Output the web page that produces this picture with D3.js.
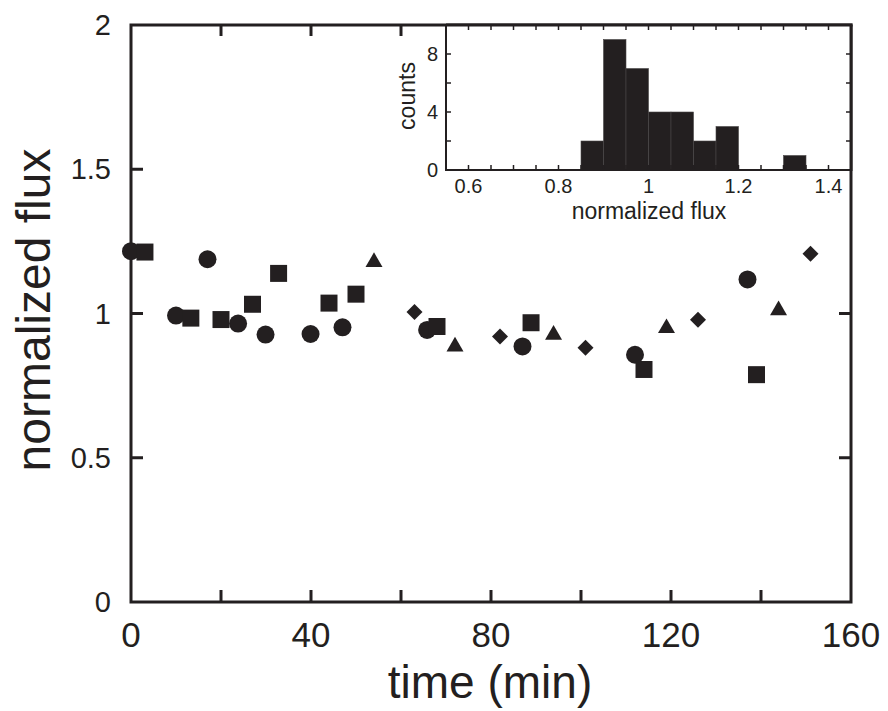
<!DOCTYPE html>
<html>
<head>
<meta charset="utf-8">
<script src="https://cdn.jsdelivr.net/npm/d3@7"></script>
<style>
  body { margin: 0; background: #fff; }
  text { font-family: "Liberation Sans", Arial, sans-serif; fill: #231f20; }
</style>
</head>
<body>
<svg width="888" height="711"></svg>
<script>
// main plot data
const circleTime = [0, 10, 17, 23.8, 29.9, 39.9, 47, 65.8, 87, 112, 137];
const circleFlux = [1.216, 0.993, 1.188, 0.965, 0.927, 0.929, 0.952, 0.943, 0.886, 0.857, 1.118];
const squareTime = [3.1, 13.3, 20, 27, 32.8, 44, 50, 68, 88.9, 114, 139];
const squareFlux = [1.213, 0.984, 0.979, 1.032, 1.139, 1.036, 1.067, 0.955, 0.968, 0.806, 0.788];
const triTime = [54, 72, 93.9, 119, 143.9];
const triFlux = [1.178, 0.885, 0.926, 0.949, 1.011];
const diamondTime = [63, 82, 101, 126, 151];
const diamondFlux = [1.005, 0.920, 0.881, 0.978, 1.207];

const xTicks = [0, 40, 80, 120, 160];
const yTicks = [0, 0.5, 1, 1.5, 2];

// inset histogram
const binStart = [0.85, 0.9, 0.95, 1.0, 1.05, 1.1, 1.15, 1.3];
const binCount = [2, 9, 7, 4, 4, 2, 3, 1];
const binWidth = 0.05;
const insetXTicks = [0.6, 0.8, 1, 1.2, 1.4];
const insetYTicks = [0, 4, 8];

const ink = '#231f20';
const svg = d3.select('svg');

// scales
const x = d3.scaleLinear().domain([0, 160]).range([131, 851]);
const y = d3.scaleLinear().domain([0, 2]).range([602, 25]);

// frame
svg.append('rect')
   .attr('x', 131).attr('y', 25)
   .attr('width', 720).attr('height', 577)
   .attr('fill', 'none').attr('stroke', ink).attr('stroke-width', 3);

// x ticks every 20, bottom (up) and top (down)
const minorX = d3.range(20, 160, 20);
svg.append('g').selectAll('line').data(minorX).join('line')
   .attr('x1', d => x(d)).attr('x2', d => x(d))
   .attr('y1', 602).attr('y2', 590)
   .attr('stroke', ink).attr('stroke-width', 3);
svg.append('g').selectAll('line').data(minorX.filter(d => x(d) < 446)).join('line')
   .attr('x1', d => x(d)).attr('x2', d => x(d))
   .attr('y1', 25).attr('y2', 36)
   .attr('stroke', ink).attr('stroke-width', 3);

// y ticks left and right
const innerY = [0.5, 1, 1.5];
svg.append('g').selectAll('line').data(innerY).join('line')
   .attr('x1', 131).attr('x2', 143)
   .attr('y1', d => y(d)).attr('y2', d => y(d))
   .attr('stroke', ink).attr('stroke-width', 3);
svg.append('g').selectAll('line').data([0.5, 1]).join('line')
   .attr('x1', 851).attr('x2', 839)
   .attr('y1', d => y(d)).attr('y2', d => y(d))
   .attr('stroke', ink).attr('stroke-width', 3);

// tick labels
svg.append('g').selectAll('text').data(xTicks).join('text')
   .attr('x', d => x(d)).attr('y', 647)
   .attr('text-anchor', 'middle')
   .attr('font-size', '35px')
   .text(d => d);

svg.append('g').selectAll('text').data(yTicks).join('text')
   .attr('x', 111).attr('y', d => y(d) + 10)
   .attr('text-anchor', 'end')
   .attr('font-size', '29px')
   .text(d => d);

// axis labels
svg.append('text')
   .attr('x', 490).attr('y', 698)
   .attr('text-anchor', 'middle')
   .attr('font-size', '46px')
   .text('time (min)');

svg.append('text')
   .attr('transform', 'translate(50,310) rotate(-90)')
   .attr('text-anchor', 'middle')
   .attr('font-size', '48px')
   .text('normalized flux');

// markers
const pts = svg.append('g');
function drawSeries(times, fluxes, type, size, rot) {
  pts.selectAll(null).data(times.map((t, i) => ({t: t, f: fluxes[i]}))).join('path')
     .attr('d', d3.symbol().type(type).size(size))
     .attr('transform', d => 'translate(' + x(d.t) + ',' + y(d.f) + ') rotate(' + rot + ')')
     .attr('fill', ink);
}
drawSeries(circleTime, circleFlux, d3.symbolCircle, 254, 0);
drawSeries(squareTime, squareFlux, d3.symbolSquare, 289, 0);
drawSeries(triTime, triFlux, d3.symbolTriangle, 125, 0);
drawSeries(diamondTime, diamondFlux, d3.symbolSquare, 128, 45);

// ---- inset histogram ----
const ix = d3.scaleLinear().domain([0.55, 1.45]).range([446, 851]);
const iy = d3.scaleLinear().domain([0, 10]).range([170, 25]);

const inset = svg.append('g');
inset.append('rect')
     .attr('x', 446).attr('y', 25)
     .attr('width', 405).attr('height', 145)
     .attr('fill', '#fff');

inset.selectAll('rect.bar').data(binStart).join('rect')
     .attr('class', 'bar')
     .attr('x', d => ix(d))
     .attr('y', (d, i) => iy(binCount[i]))
     .attr('width', d => ix(d + binWidth) - ix(d))
     .attr('height', (d, i) => iy(0) - iy(binCount[i]))
     .attr('fill', ink)
     .attr('stroke', '#4a4647').attr('stroke-width', 0.6);

// inset ticks every 0.05 and every 2
const iMinorX = d3.range(12, 29).map(k => k * 0.05);
inset.append('g').selectAll('line').data(iMinorX).join('line')
     .attr('x1', d => ix(d)).attr('x2', d => ix(d))
     .attr('y1', 170).attr('y2', 165)
     .attr('stroke', ink).attr('stroke-width', 1.5);
inset.append('g').selectAll('line').data(iMinorX).join('line')
     .attr('x1', d => ix(d)).attr('x2', d => ix(d))
     .attr('y1', 25).attr('y2', 30)
     .attr('stroke', ink).attr('stroke-width', 1.5);
const iMinorY = [2, 4, 6, 8];
inset.append('g').selectAll('line').data(iMinorY).join('line')
     .attr('x1', 446).attr('x2', 451)
     .attr('y1', d => iy(d)).attr('y2', d => iy(d))
     .attr('stroke', ink).attr('stroke-width', 1.5);
inset.append('g').selectAll('line').data(iMinorY).join('line')
     .attr('x1', 851).attr('x2', 846)
     .attr('y1', d => iy(d)).attr('y2', d => iy(d))
     .attr('stroke', ink).attr('stroke-width', 1.5);

// inset frame lines
inset.append('line')
     .attr('x1', 446).attr('x2', 446).attr('y1', 25).attr('y2', 171)
     .attr('stroke', ink).attr('stroke-width', 2);
inset.append('line')
     .attr('x1', 445).attr('x2', 851).attr('y1', 170).attr('y2', 170)
     .attr('stroke', ink).attr('stroke-width', 2);
inset.append('line')
     .attr('x1', 446).attr('x2', 852.5).attr('y1', 25).attr('y2', 25)
     .attr('stroke', ink).attr('stroke-width', 3);
inset.append('line')
     .attr('x1', 851).attr('x2', 851).attr('y1', 25).attr('y2', 171)
     .attr('stroke', ink).attr('stroke-width', 3);

inset.append('g').selectAll('text').data(insetXTicks).join('text')
     .attr('x', d => ix(d)).attr('y', 193)
     .attr('text-anchor', 'middle')
     .attr('font-size', '20px')
     .text(d => d);
inset.append('g').selectAll('text').data(insetYTicks).join('text')
     .attr('x', 438).attr('y', d => iy(d) + 7)
     .attr('text-anchor', 'end')
     .attr('font-size', '20px')
     .text(d => d);

inset.append('text')
     .attr('x', 649).attr('y', 219)
     .attr('text-anchor', 'middle')
     .attr('font-size', '23px')
     .text('normalized flux');
inset.append('text')
     .attr('transform', 'translate(415,96) rotate(-90)')
     .attr('text-anchor', 'middle')
     .attr('font-size', '23px')
     .text('counts');
</script>
</body>
</html>
